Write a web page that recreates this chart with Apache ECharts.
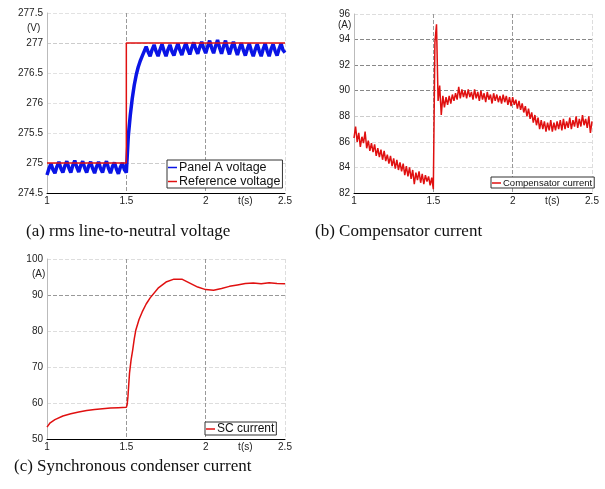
<!DOCTYPE html>
<html>
<head>
<meta charset="utf-8">
<script src="https://cdn.jsdelivr.net/npm/echarts/dist/echarts.min.js"></script>
<style>
  html, body { margin: 0; padding: 0; background: #fff; }
  #main { width: 605px; height: 489px; }
</style>
</head>
<body>
<div id="main"></div>
<script type="text/javascript">
// (a) rms line-to-neutral voltage, sampled every 0.0125 s from t = 1
var panelAStart = 1, panelAStep = 0.0125;
var panelA = [
  274.80, 274.91, 274.99, 274.89, 274.83, 274.94, 275.02, 274.91, 274.84, 274.95,
  275.03, 274.92, 274.84, 274.96, 275.04, 274.93, 274.85, 274.96, 275.03, 274.92,
  274.84, 274.95, 275.02, 274.91, 274.83, 274.94, 275.02, 274.91, 274.84, 274.96,
  275.03, 274.91, 274.83, 274.94, 275.01, 274.90, 274.82, 274.93, 275.00, 274.89,
  274.84, 275.45, 275.80, 276.08, 276.30, 276.47, 276.60, 276.70, 276.78, 276.86,
  276.94, 276.85, 276.78, 276.89, 276.97, 276.86, 276.78, 276.89, 276.98, 276.87,
  276.78, 276.89, 276.97, 276.86, 276.79, 276.90, 276.99, 276.88, 276.80, 276.91,
  277.00, 276.89, 276.81, 276.92, 277.01, 276.90, 276.82, 276.93, 277.02, 276.91,
  276.83, 276.94, 277.04, 276.92, 276.83, 276.95, 277.05, 276.92, 276.82, 276.94,
  277.04, 276.91, 276.81, 276.93, 277.02, 276.90, 276.80, 276.91, 277.00, 276.88,
  276.79, 276.90, 276.99, 276.87, 276.78, 276.89, 276.98, 276.87, 276.78, 276.90,
  276.99, 276.87, 276.78, 276.90, 276.98, 276.87, 276.79, 276.90, 276.99, 276.88,
  276.84
];
var refTime = [1, 1.5, 1.5, 2.5];
var refVoltage = [275, 275, 277, 277];

// (b) compensator current, sampled every 0.01 s from t = 1
var compStart = 1, compStep = 0.01;
var compCurrent = [
  86.3, 87.2, 86.0, 86.7, 85.6, 86.4, 85.9, 86.8, 85.5, 86.1,
  85.3, 85.9, 85.2, 85.8, 84.9, 85.5, 84.8, 85.4, 84.6, 85.3,
  84.5, 85.0, 84.3, 84.9, 84.1, 84.7, 83.9, 84.6, 83.8, 84.4,
  83.7, 84.3, 83.4, 84.1, 83.3, 84.0, 83.1, 83.8, 82.7, 83.6,
  83.0, 83.7, 82.8, 83.5, 82.7, 83.4, 82.9, 83.3, 82.6, 83.2,
  82.3, 93.8, 95.2, 89.2, 90.4, 88.1, 89.6, 88.7, 89.5, 88.9,
  89.6, 89.0, 89.7, 89.2, 89.8, 89.3, 90.3, 89.4, 90.1, 89.5,
  90.0, 89.4, 90.1, 89.5, 89.9, 89.3, 90.1, 89.4, 89.9, 89.2,
  90.0, 89.3, 89.8, 89.1, 89.9, 89.3, 89.7, 89.0, 89.8, 89.2,
  89.7, 89.1, 89.6, 89.0, 89.7, 89.1, 89.6, 88.9, 89.5, 88.8,
  89.5, 88.9, 89.3, 88.6, 89.2, 88.5, 89.0, 88.3, 88.8, 88.0,
  88.6, 87.8, 88.3, 87.5, 88.1, 87.3, 87.9, 87.0, 87.7, 87.0,
  87.6, 86.8, 87.5, 86.9, 87.7, 86.8, 87.5, 86.9, 87.6, 87.0,
  87.7, 86.9, 87.8, 87.0, 87.6, 87.1, 87.9, 87.0, 87.7, 87.2,
  88.0, 87.1, 87.8, 87.2, 88.1, 87.3, 87.8, 87.1, 88.0, 86.7,
  87.6
];

// (c) synchronous condenser current
var scTime = [1.00, 1.02, 1.05, 1.1, 1.15, 1.2, 1.25, 1.3, 1.35, 1.4, 1.45, 1.5, 1.505, 1.51, 1.52, 1.53,
  1.54, 1.55, 1.56, 1.58, 1.6, 1.625, 1.65, 1.7, 1.75, 1.8, 1.85, 1.9, 1.95, 2.0, 2.05, 2.1,
  2.15, 2.2, 2.25, 2.3, 2.35, 2.4, 2.45, 2.5];
var scCurrent = [53.3, 54.5, 55.4, 56.4, 57.0, 57.5, 57.9, 58.2, 58.4, 58.6, 58.7, 58.8, 59.5, 61.7, 68.3, 72.0,
  74.7, 77.8, 80.3, 83.2, 85.3, 87.5, 89.2, 91.9, 93.6, 94.4, 94.4, 93.3, 92.2, 91.5, 91.3, 91.8,
  92.4, 92.8, 93.2, 93.3, 93.1, 93.4, 93.2, 93.1];

var xTicks = { 1: '1', 1.5: '1.5', 2: '2', 2.25: 't(s)', 2.5: '2.5' };

function uniform(t0, dt, vals) {
  return vals.map(function (v, i) { return [+(t0 + i * dt).toFixed(4), v]; });
}
function zip(ts, vs) {
  return ts.map(function (t, i) { return [t, vs[i]]; });
}

var lbl = { color: '#222', fontSize: 10, fontFamily: 'Liberation Sans' };

function xAxisFor(gi) {
  return {
    type: 'value', gridIndex: gi, min: 1, max: 2.5, interval: 0.25,
    axisLine: { lineStyle: { color: '#000', width: 1 } },
    axisTick: { show: false },
    axisLabel: Object.assign({ margin: 3, formatter: function (v) { return xTicks[v] || ''; } }, lbl),
    splitLine: { show: true, lineStyle: { type: 'dashed', width: 1,
      color: ['transparent', 'transparent', '#999', 'transparent', '#999', 'transparent', '#ddd'] } }
  };
}
function yAxisFor(gi, min, max, step, colors) {
  return {
    type: 'value', gridIndex: gi, min: min, max: max, interval: step,
    axisLine: { show: true, lineStyle: { color: '#bbb' } },
    axisTick: { show: false },
    axisLabel: Object.assign({ margin: 4 }, lbl),
    splitLine: { show: true, lineStyle: { type: 'dashed', width: 1, color: colors } }
  };
}
function legendFor(names, left, top, fontSize, gap) {
  return {
    data: names, orient: 'vertical', left: left, top: top,
    selectedMode: false, backgroundColor: '#fff',
    borderColor: '#333', borderWidth: 1, borderRadius: 0,
    padding: [1, 2, 0, 1], itemGap: gap, itemWidth: 9, itemHeight: 1.5,
    icon: 'rect',
    textStyle: { fontSize: fontSize, color: '#111', fontFamily: 'Liberation Sans', padding: [0, 0, 0, -3] }
  };
}

var myChart = echarts.init(document.getElementById('main'));
var options = {
  animation: false,
  backgroundColor: '#fff',
  grid: [
    { left: 47, top: 13, width: 238, height: 180 },
    { left: 354, top: 14, width: 238, height: 179 },
    { left: 47, top: 259, width: 238, height: 180 }
  ],
  xAxis: [ xAxisFor(0), xAxisFor(1), xAxisFor(2) ],
  yAxis: [
    yAxisFor(0, 274.5, 277.5, 0.5, ['transparent', '#ccc', '#e2e2e2', '#e2e2e2', '#e2e2e2', '#ccc', '#e2e2e2']),
    yAxisFor(1, 82, 96, 2, ['transparent', '#ddd', '#ddd', '#ccc', '#888', '#888', '#888', '#ddd']),
    yAxisFor(2, 50, 100, 10, ['transparent', '#ddd', '#ddd', '#ddd', '#999', '#ddd'])
  ],
  legend: [
    legendFor(['Panel A voltage', 'Reference voltage'], 167, 160, 12.5, 1),
    legendFor(['Compensator current'], 491, 177, 9.5, 0),
    legendFor(['SC current'], 205, 422, 12, 0)
  ],
  series: [
    { name: 'Panel A voltage', type: 'line', xAxisIndex: 0, yAxisIndex: 0, showSymbol: false,
      data: uniform(panelAStart, panelAStep, panelA),
      color: '#0a14e6', lineStyle: { width: 3.5, color: '#0a14e6' } },
    { name: 'Reference voltage', type: 'line', xAxisIndex: 0, yAxisIndex: 0, showSymbol: false,
      data: zip(refTime, refVoltage),
      color: '#e01010', lineStyle: { width: 1.5, color: '#e01010' } },
    { name: 'Compensator current', type: 'line', xAxisIndex: 1, yAxisIndex: 1, showSymbol: false,
      data: uniform(compStart, compStep, compCurrent),
      color: '#e01010', lineStyle: { width: 1.5, color: '#e01010' } },
    { name: 'SC current', type: 'line', xAxisIndex: 2, yAxisIndex: 2, showSymbol: false,
      data: zip(scTime, scCurrent),
      color: '#e01010', lineStyle: { width: 1.5, color: '#e01010' } }
  ],
  graphic: [
    { type: 'text', left: 27, top: 23, style: { text: '(V)', fontSize: 10, fill: '#222', fontFamily: 'Liberation Sans' } },
    { type: 'text', left: 338, top: 20, style: { text: '(A)', fontSize: 10, fill: '#222', fontFamily: 'Liberation Sans' } },
    { type: 'text', left: 32, top: 269, style: { text: '(A)', fontSize: 10, fill: '#222', fontFamily: 'Liberation Sans' } },
    { type: 'text', left: 26, top: 223, style: { text: '(a) rms line-to-neutral voltage', fontSize: 17, fill: '#111', fontFamily: 'Liberation Serif' } },
    { type: 'text', left: 315, top: 223, style: { text: '(b) Compensator current', fontSize: 17, fill: '#111', fontFamily: 'Liberation Serif' } },
    { type: 'text', left: 14, top: 458, style: { text: '(c) Synchronous condenser current', fontSize: 17, fill: '#111', fontFamily: 'Liberation Serif' } }
  ]
};
myChart.setOption(options);
</script>
</body>
</html>
